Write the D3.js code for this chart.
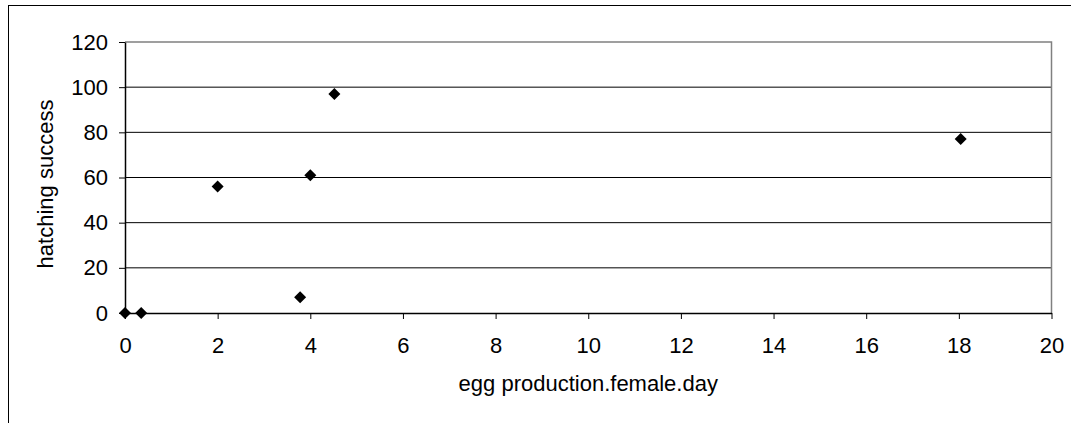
<!DOCTYPE html>
<html>
<head>
<meta charset="utf-8">
<script src="https://cdn.jsdelivr.net/npm/d3@7"></script>
<style>
  body { margin: 0; background: #fff; }
  svg { display: block; }
  text { font-family: "Liberation Sans", Arial, sans-serif; fill: #000; }
</style>
</head>
<body>
<svg id="chart"></svg>
<script>
// egg production vs hatching success
var eggProduction = [0, 0.35, 2.0, 3.78, 4.0, 4.52, 18.04];
var hatchSuccess  = [0, 0, 56, 7, 61, 97, 77];
var xTicks = [0, 2, 4, 6, 8, 10, 12, 14, 16, 18, 20];
var yTicks = [0, 20, 40, 60, 80, 100, 120];

var svgWidth = 1071, svgHeight = 423;
var plot = { left: 125, top: 42, right: 1051.5, bottom: 313 };
var fontSize = '22px';

var svg = d3.select('#chart')
    .attr('width', svgWidth)
    .attr('height', svgHeight);

// outer chart border (runs off the picture on the right and bottom)
svg.append('rect')
    .attr('x', 8.5)
    .attr('y', 5.5)
    .attr('width', 1080)
    .attr('height', 440)
    .attr('fill', 'none')
    .attr('stroke', '#000')
    .attr('stroke-width', 1);

var x = d3.scaleLinear()
    .domain([0, 20])
    .range([plot.left, plot.right]);

var y = d3.scaleLinear()
    .domain([0, 120])
    .range([plot.bottom, plot.top]);

// gridlines
svg.append('g')
    .selectAll('line')
    .data(yTicks.filter(function(d) { return d > 0 && d < 120; }))
    .enter()
    .append('line')
    .attr('x1', plot.left)
    .attr('x2', plot.right)
    .attr('y1', function(d) { return y(d); })
    .attr('y2', function(d) { return y(d); })
    .attr('stroke', '#000')
    .attr('stroke-width', 1);

// plot area border (top + right, grey)
svg.append('path')
    .attr('d', 'M' + plot.left + ',' + y(120) + 'H' + plot.right + 'V' + plot.bottom)
    .attr('fill', 'none')
    .attr('stroke', '#808080')
    .attr('stroke-width', 1.5);

var yAxis = d3.axisLeft(y)
    .tickValues(yTicks)
    .tickSize(6)
    .tickSizeOuter(0)
    .tickPadding(11);

var gy = svg.append('g')
    .attr('transform', 'translate(' + plot.left + ',0)')
    .call(yAxis);

var xAxis = d3.axisBottom(x)
    .tickValues(xTicks)
    .tickSize(6)
    .tickSizeOuter(0)
    .tickPadding(18);

var gx = svg.append('g')
    .attr('transform', 'translate(0,' + plot.bottom + ')')
    .call(xAxis);

[gx, gy].forEach(function(g) {
    g.select('.domain').attr('stroke', '#000').attr('stroke-width', 1.5);
    g.selectAll('.tick line').attr('stroke', '#000');
    g.selectAll('.tick text')
        .style('font-family', '"Liberation Sans", Arial, sans-serif')
        .style('font-size', fontSize)
        .attr('fill', '#000');
});

// axis titles
svg.append('text')
    .attr('x', (plot.left + plot.right) / 2)
    .attr('y', 391)
    .attr('text-anchor', 'middle')
    .style('font-size', fontSize)
    .text('egg production.female.day');

svg.append('text')
    .attr('transform', 'translate(53,184) rotate(-90)')
    .attr('text-anchor', 'middle')
    .style('font-size', fontSize)
    .text('hatching success');

// diamond markers
var pts = eggProduction.map(function(d, i) { return [d, hatchSuccess[i]]; });
var r = 6;
svg.append('g')
    .selectAll('path')
    .data(pts)
    .enter()
    .append('path')
    .attr('d', function(d) {
        var cx = x(d[0]), cy = y(d[1]);
        return 'M' + cx + ',' + (cy - r) + 'L' + (cx + r) + ',' + cy +
               'L' + cx + ',' + (cy + r) + 'L' + (cx - r) + ',' + cy + 'Z';
    })
    .attr('fill', '#000');
</script>
</body>
</html>
